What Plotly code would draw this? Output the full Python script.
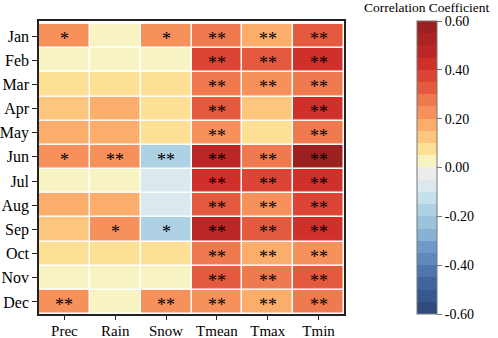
import plotly.graph_objects as go

months = ["Jan", "Feb", "Mar", "Apr", "May", "Jun", "Jul", "Aug", "Sep", "Oct", "Nov", "Dec"]
variables = ["Prec", "Rain", "Snow", "Tmean", "Tmax", "Tmin"]

# correlation coefficients (rows = months, columns = variables)
prec = [0.23, 0.03, 0.08, 0.13, 0.18, 0.23, 0.03, 0.18, 0.13, 0.08, 0.03, 0.23]
rain = [0.02, 0.03, 0.08, 0.18, 0.18, 0.23, 0.03, 0.18, 0.23, 0.08, 0.03, 0.03]
snow = [0.23, 0.03, 0.08, 0.08, 0.08, -0.19, -0.07, -0.07, -0.17, 0.08, 0.03, 0.23]
tmean = [0.27, 0.38, 0.27, 0.32, 0.23, 0.48, 0.43, 0.33, 0.48, 0.27, 0.33, 0.23]
tmax = [0.18, 0.33, 0.23, 0.13, 0.08, 0.27, 0.38, 0.23, 0.33, 0.18, 0.27, 0.18]
tmin = [0.32, 0.43, 0.27, 0.43, 0.27, 0.58, 0.43, 0.38, 0.43, 0.20, 0.32, 0.27]

# significance marks
sig_prec = ["*", "", "", "", "", "*", "", "", "", "", "", "**"]
sig_rain = ["", "", "", "", "", "**", "", "", "*", "", "", ""]
sig_snow = ["*", "", "", "", "", "**", "", "", "*", "", "", "**"]
sig_tmean = ["**"] * 12
sig_tmax = ["**", "**", "**", "", "", "**", "**", "**", "**", "**", "**", "**"]
sig_tmin = ["**"] * 12

cbar_ticks = [-0.6, -0.4, -0.2, 0.0, 0.2, 0.4, 0.6]
cbar_ticktext = ["-0.60", "-0.40", "-0.20", "0.00", "0.20", "0.40", "0.60"]

# discrete colour bins from -0.60 to 0.60 (step 0.05), bottom to top
bin_colors = [
    "#2f4b7c", "#37588e", "#41649f", "#4e75b0", "#5f88bd", "#6f99c6",
    "#87b2d3", "#9bc4dc", "#aed1e3", "#c6e0ec", "#dbe9ef", "#ececec",
    "#f8f3c2", "#fde095", "#fdc67e", "#fbad6b", "#f6915c", "#ef7a4f",
    "#e35a3f", "#dc4535", "#d0302a", "#bb2626", "#ab2322", "#9b2120",
]
n = len(bin_colors)
colorscale = []
for i, c in enumerate(bin_colors):
    colorscale.append([i / n, c])
    colorscale.append([(i + 1) / n, c])

cols = [prec, rain, snow, tmean, tmax, tmin]
sigs = [sig_prec, sig_rain, sig_snow, sig_tmean, sig_tmax, sig_tmin]
z = [[cols[j][i] for j in range(len(variables))] for i in range(len(months))]

font = "Liberation Serif, Times New Roman, serif"

fig = go.Figure(go.Heatmap(
    z=z, x=variables, y=months,
    colorscale=colorscale, zmin=-0.6, zmax=0.6, xgap=1.5, ygap=1.5,
    hoverinfo="skip",
    colorbar=dict(
        x=(417 - 39) / 305, xanchor="left", xpad=0,
        y=0.5, yanchor="middle", len=1.0, lenmode="fraction", ypad=0,
        thickness=20, outlinewidth=1, outlinecolor="#777777",
        tickvals=cbar_ticks, ticktext=cbar_ticktext,
        ticks="outside", ticklen=5, tickcolor="#777777",
        tickfont=dict(family=font, size=14, color="black"),
    ),
))

for j, var in enumerate(variables):
    for i, m in enumerate(months):
        if sigs[j][i]:
            fig.add_annotation(
                x=var, y=m, text=sigs[j][i], showarrow=False, yshift=-3,
                font=dict(family=font, size=18, color="black"),
            )

fig.add_annotation(
    text="Correlation Coefficient", x=(427 - 39) / 305, y=1.0, xref="paper", yref="paper",
    xanchor="center", yanchor="bottom", yshift=4, showarrow=False,
    font=dict(family=font, size=13.5, color="black"),
)

fig.update_xaxes(
    automargin=False,
    showline=True, linecolor="#222222", linewidth=1.5, mirror=True,
    ticks="outside", ticklen=4, tickcolor="#222222",
    ticklabelstandoff=-2,
    tickfont=dict(family=font, size=15, color="black"),
)
fig.update_yaxes(
    automargin=False, autorange="reversed",
    showline=True, linecolor="#222222", linewidth=1.5, mirror=True,
    ticks="outside", ticklen=5, tickcolor="#222222",
    tickfont=dict(family=font, size=16, color="black"),
)

fig.update_layout(
    width=498, height=338,
    margin=dict(l=39, r=154, t=21, b=24, autoexpand=False),
    paper_bgcolor="white", plot_bgcolor="white",
)

fig.write_html(
    "out.html",
    config={"displayModeBar": False},
    post_script="document.body.style.margin='0';document.body.style.padding='0';document.body.style.overflow='hidden';",
)
